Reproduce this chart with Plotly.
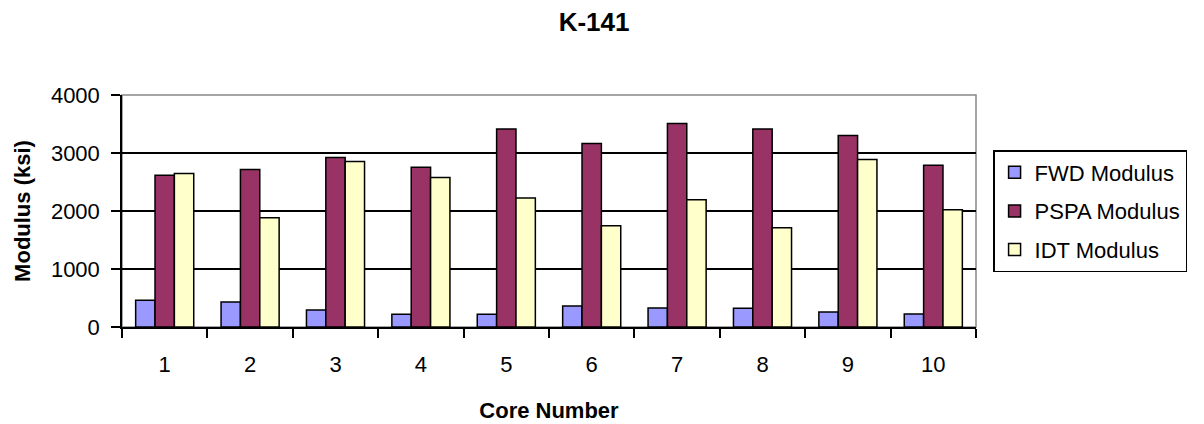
import plotly.graph_objects as go

categories = ["1", "2", "3", "4", "5", "6", "7", "8", "9", "10"]
fwd_modulus = [461, 432, 294, 219, 219, 363, 329, 323, 259, 225]
pspa_modulus = [2617, 2715, 2922, 2755, 3412, 3164, 3510, 3412, 3303, 2790]
idt_modulus = [2646, 1885, 2853, 2576, 2225, 1746, 2196, 1712, 2888, 2023]

series = [
    ("FWD Modulus", fwd_modulus, "#9999FF"),
    ("PSPA Modulus", pspa_modulus, "#993366"),
    ("IDT Modulus", idt_modulus, "#FFFFCC"),
]

fig = go.Figure()
for name, vals, color in series:
    fig.add_trace(go.Bar(
        x=categories, y=vals, name=name, legendgroup=name,
        marker=dict(color=color, line=dict(color="black", width=1.5)),
    ))

font_family = "Liberation Sans, Arial, sans-serif"
W, H = 1196, 416

fig.update_layout(
    width=W, height=H,
    margin=dict(l=114, r=228, t=87, b=97),
    paper_bgcolor="white", plot_bgcolor="white",
    barmode="group", bargap=0.32, bargroupgap=0,
    font=dict(family=font_family, size=22, color="black"),
    title=dict(text="<b>K-141</b>", x=0.49, xanchor="center", y=1 - 14 / H,
               yanchor="middle", font=dict(size=26)),
    showlegend=True,
    legend=dict(x=1.02, xanchor="left", y=0.5, yanchor="middle",
                bordercolor="black", borderwidth=1.5, bgcolor="white",
                font=dict(size=22), traceorder="grouped", tracegroupgap=7),
    xaxis=dict(
        type="category", showline=True, linecolor="black", linewidth=1.5,
        ticks="outside", tickson="boundaries", ticklen=9, tickcolor="black", tickwidth=1.5,
        showgrid=False, ticklabelstandoff=17, automargin=False,
        title=dict(text="<b>Core Number</b>", font=dict(size=22), standoff=26),
        tickfont=dict(size=22),
    ),
    yaxis=dict(
        range=[0, 4000], dtick=1000, showline=True, linecolor="black", linewidth=1.5,
        ticks="outside", ticklen=9, tickcolor="black", tickwidth=1.5,
        showgrid=True, gridcolor="black", gridwidth=1.5, zeroline=False,
        ticklabelstandoff=7, automargin=False,
        title=dict(text="<b>Modulus (ksi)</b>", font=dict(size=22), standoff=14),
        tickfont=dict(size=22),
    ),
)

fig.add_shape(type="rect", xref="paper", yref="paper", x0=0, x1=1, y0=0, y1=1,
              line=dict(color="#888888", width=1.5), layer="below")

fig.write_html("out.html")
